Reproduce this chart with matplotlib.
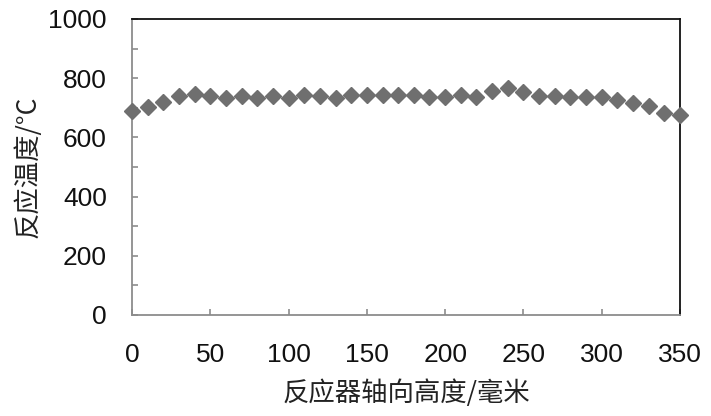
import matplotlib
matplotlib.use("Agg")
import matplotlib.pyplot as plt
from matplotlib.ticker import MultipleLocator

heights = [0, 10, 20, 30, 40, 50, 60, 70, 80, 90, 100, 110, 120, 130, 140, 150, 160, 170,
           180, 190, 200, 210, 220, 230, 240, 250, 260, 270, 280, 290, 300, 310, 320, 330, 340, 350]
temps = [690, 704, 721, 740, 747, 741, 733, 741, 734, 740, 734, 743, 741, 732, 743, 743, 743, 742,
         742, 738, 738, 743, 738, 757, 766, 754, 741, 741, 738, 735, 735, 726, 715, 706, 681, 676]

xticks = [0, 50, 100, 150, 200, 250, 300, 350]
yticks = [0, 200, 400, 600, 800, 1000]
xlabel = "反应器轴向高度/毫米"
ylabel = "反应温度/°C"

plt.rcParams['font.family'] = ['Liberation Sans', 'Noto Sans CJK SC', 'DejaVu Sans']

fig = plt.figure(figsize=(7.11, 4.16), dpi=100)
ax = fig.add_axes([132/711, 1 - 315/416, (680-132)/711, (315-19)/416])

ax.plot(heights, temps, linestyle='none', marker='D', markersize=8,
        color='#6f6f6f', markeredgecolor='#6f6f6f', clip_on=False, zorder=3)

ax.set_xlim(0, 350)
ax.set_ylim(0, 1000)
ax.set_xticks(xticks)
ax.set_yticks(yticks)
ax.yaxis.set_minor_locator(MultipleLocator(100))

for s in ['left', 'bottom']:
    ax.spines[s].set_color('#8c8c8c')
    ax.spines[s].set_linewidth(1.3)
for s in ['top', 'right']:
    ax.spines[s].set_color('#111111')
    ax.spines[s].set_linewidth(1.3)

ax.tick_params(axis='both', which='both', direction='in', length=4.5, width=1.2,
               color='#8c8c8c', labelsize=19, labelcolor='#111111')
ax.tick_params(axis='y', which='both', pad=18, right=False)
ax.tick_params(axis='x', which='both', pad=20, top=False)

ax.set_xlabel(xlabel, fontsize=19, family=['Noto Sans CJK SC', 'DejaVu Sans'],
              fontweight='light', color='#222222', labelpad=9)
ax.set_ylabel(ylabel, fontsize=19, family=['Noto Sans CJK SC', 'DejaVu Sans'],
              fontweight='light', color='#222222', labelpad=5)

fig.savefig("out.png", dpi=100)
